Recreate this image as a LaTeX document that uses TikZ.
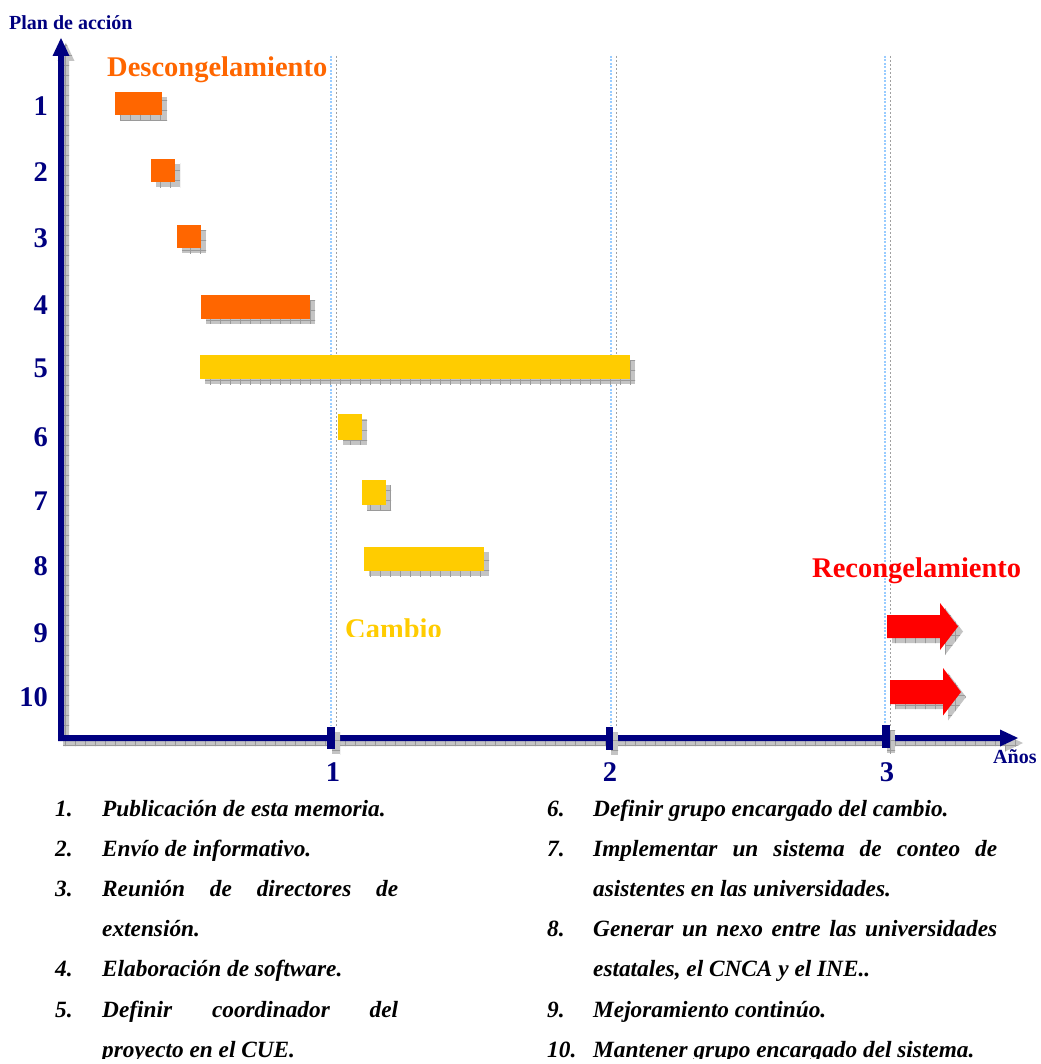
\documentclass[tikz,border=0pt]{standalone}
\usepackage{fontspec}
\setmainfont{Liberation Serif}
\definecolor{navy}{HTML}{000080}
\definecolor{barorange}{HTML}{FF6600}
\definecolor{baryellow}{HTML}{FFCC00}
\definecolor{barred}{HTML}{FF0000}
\definecolor{shadefill}{HTML}{C4C4C4}
\definecolor{shadegrid}{HTML}{9A9A9A}
\definecolor{guideblue}{HTML}{99CCFF}
\definecolor{guidegray}{HTML}{A0A0A0}

% shadow cast by a rectangle, offset down and right, with a fine grid texture
\newcommand\shadowrect[4]{%
  \begin{scope}
    \clip (#1+5,#2+5) rectangle (#3+5,#4+5);
    \fill[shadefill] (#1+5,#2+5) rectangle (#3+5,#4+5);
    \draw[shadegrid, line width=0.7pt, step=10pt] (#1-10,#2-10) grid (#3+20,#4+20);
  \end{scope}}
% shadow cast by an arbitrary closed path
\newcommand\shadowpath[1]{%
  \begin{scope}[shift={(5,5)}]
    \fill[shadefill] #1;
    \clip #1;
    \draw[shadegrid, line width=0.7pt, step=10pt] (-20,-20) grid (1060,1080);
  \end{scope}}
% Gantt bar with its shadow
\newcommand\ganttbar[6]{%
  \shadowrect{#3}{#4}{#5}{#6}
  \path[fill=#2] (#3,#4) rectangle (#5,#6) coordinate (#1);}

\tikzset{
  big/.style={font=\fontsize{28.5}{30}\selectfont\bfseries, inner sep=0pt},
  small/.style={font=\fontsize{20}{22}\selectfont\bfseries, inner sep=0pt, text=navy},
  rownum/.style={big, text=navy, anchor=base east},
  ticknum/.style={big, text=navy, anchor=base},
  legend/.style={font=\fontsize{23.3}{25}\selectfont\bfseries\itshape, inner sep=0pt, anchor=base west},
  guideA/.style={guideblue, line width=1.4pt, dash pattern=on 2pt off 1.5pt},
  guideB/.style={guidegray, line width=0.8pt, dash pattern=on 2pt off 2pt},
}

\begin{document}
\begin{tikzpicture}[x=1pt, y=-1pt]
\useasboundingbox (0,0) rectangle (1040,1064);
\fill[white] (0,0) rectangle (1040,1064);
\clip (0,0) rectangle (1040,1064);

% year guide lines
\foreach \gx in {331,611,885}{
  \draw[guideA] (\gx,56) -- (\gx,726);
  \draw[guideB] (\gx+5.5,56) -- (\gx+5.5,726);
}

% axes (one outline with both arrow heads)
\def\axispath{(58,56) -- (52.5,56) -- (61,38) -- (69.5,56) -- (64,56) -- (64,735)
  -- (1000,735) -- (1000,729.5) -- (1018,738) -- (1000,746.5) -- (1000,741) -- (58,741) -- cycle}
\shadowpath{\axispath}
\fill[navy] \axispath;

% year ticks
\shadowrect{327}{727}{335}{749}
\fill[navy] (327,727) rectangle (335,749);
\shadowrect{606}{727}{613}{750}
\fill[navy] (606,727) rectangle (613,750);
\shadowrect{882}{725}{890}{748}
\fill[navy] (882,725) rectangle (890,748);

% activity bars
\ganttbar{b1}{barorange}{115}{92}{162}{115.5}
\ganttbar{b2}{barorange}{151}{159}{175}{182.5}
\ganttbar{b3}{barorange}{177}{225}{201}{248.5}
\ganttbar{b4}{barorange}{201}{295}{310}{318.5}
\ganttbar{b5}{baryellow}{200}{355}{630}{379}
\ganttbar{b6}{baryellow}{338}{414}{362}{439.5}
\ganttbar{b7}{baryellow}{362}{480}{386}{505}
\ganttbar{b8}{baryellow}{364}{547}{484}{571}

% ongoing actions (block arrows)
\def\arrowA{(887,615) -- (940,615) -- (940,603) -- (958,626.5) -- (940,650) -- (940,638) -- (887,638) -- cycle}
\def\arrowB{(890,680) -- (943,680) -- (943,668) -- (961,692) -- (943,715.5) -- (943,704) -- (890,704) -- cycle}
\shadowpath{\arrowA}
\fill[barred] \arrowA;
\shadowpath{\arrowB}
\fill[barred] \arrowB;

% axis titles
\node[small, anchor=base west] (ytitle) at (9,29.5) {Plan de acción};
\node[small, anchor=base west] (xtitle) at (993,763) {Años};

% phase labels
\node[big, text=barorange, anchor=base west] (phase1) at (107,77) {Descongelamiento};
\node[big, text=barred, anchor=base west] (phase3) at (812,577) {Recongelamiento};
\begin{scope}
  \clip (330,590) rectangle (500,636);
  \node[big, text=baryellow, anchor=base west] (phase2) at (345,638.5) {Cambio};
\end{scope}

% row numbers
\foreach \n/\ry in {1/116,2/181.5,3/247.5,4/314,5/377.5,6/446,7/510.5,8/575.5,9/642,10/706.5}
  \node[rownum] (row\n) at (48,\ry) {\n};

% year numbers
\node[ticknum] (year1) at (333,781) {1};
\node[ticknum] (year2) at (610,781) {2};
\node[ticknum] (year3) at (887,781) {3};

% action list
\begin{scope}
  \clip (0,790) rectangle (1040,1058.5);
  \node[legend] (n1) at (55,816) {1.};
  \node[legend] (t1) at (102,816) {Publicación de esta memoria.};
  \node[legend] (n2) at (55,856) {2.};
  \node[legend] (t2) at (102,856) {Envío de informativo.};
  \node[legend] (n3) at (55,896.5) {3.};
  \node[legend] (t3) at (102,896.5) {\makebox[296pt][s]{Reunión de directores de}};
  \node[legend] (t3b) at (102,936.5) {extensión.};
  \node[legend] (n4) at (55,976.5) {4.};
  \node[legend] (t4) at (102,976.5) {Elaboración de software.};
  \node[legend] (n5) at (55,1017) {5.};
  \node[legend] (t5) at (102,1017) {\makebox[296pt][s]{Definir coordinador del}};
  \node[legend] (t5b) at (102,1057) {proyecto en el CUE.};

  \node[legend] (n6) at (547,816) {6.};
  \node[legend] (t6) at (593,816) {Definir grupo encargado del cambio.};
  \node[legend] (n7) at (547,856) {7.};
  \node[legend] (t7) at (593,856) {\makebox[404pt][s]{Implementar un sistema de conteo de}};
  \node[legend] (t7b) at (593,896.5) {asistentes en las universidades.};
  \node[legend] (n8) at (547,936.5) {8.};
  \node[legend] (t8) at (593,936.5) {\makebox[404pt][s]{Generar un nexo entre las universidades}};
  \node[legend] (t8b) at (593,976.5) {estatales, el CNCA y el INE..};
  \node[legend] (n9) at (547,1017) {9.};
  \node[legend] (t9) at (593,1017) {Mejoramiento continúo.};
  \node[legend] (n10) at (547,1057) {10.};
  \node[legend] (t10) at (593,1057) {Mantener grupo encargado del sistema.};
\end{scope}
\end{tikzpicture}
\end{document}
